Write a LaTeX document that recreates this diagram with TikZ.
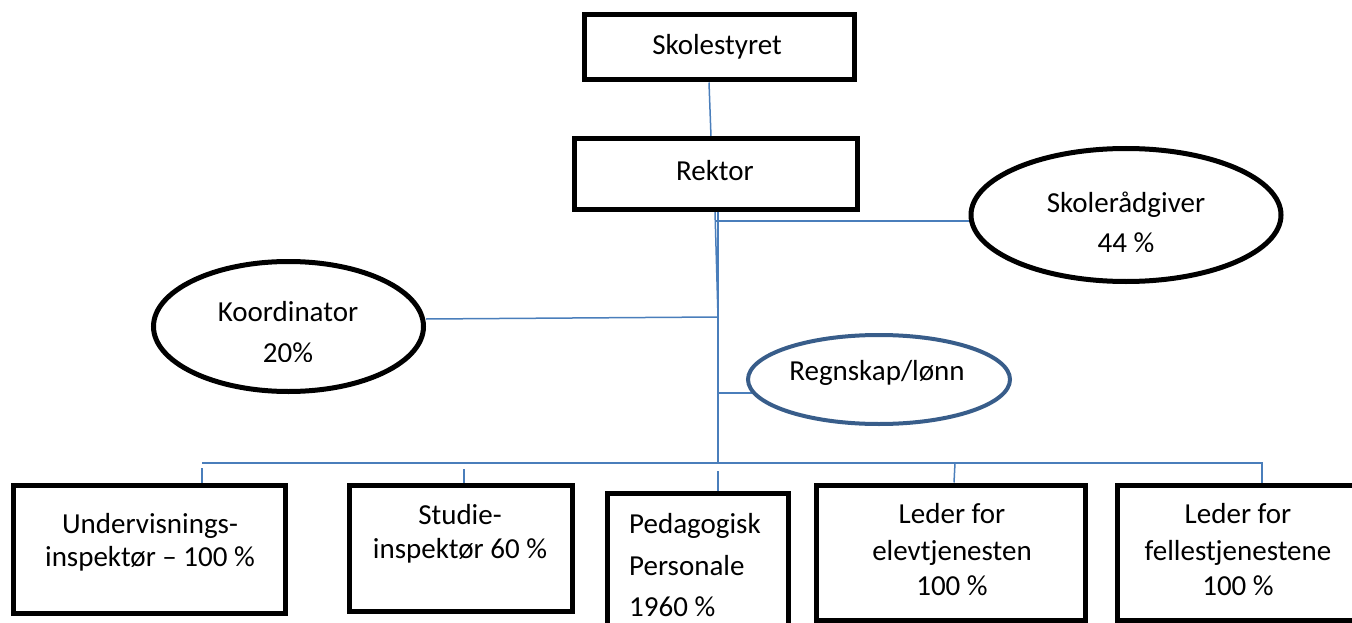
\documentclass[tikz,border=0pt]{standalone}
\usepackage{fontspec}
\setmainfont{Carlito}
\usetikzlibrary{shapes.geometric,backgrounds}
\definecolor{connc}{HTML}{4A7EBB}
\definecolor{rgstroke}{HTML}{385D8A}
\begin{document}
\begin{tikzpicture}[x=1pt,y=-1pt,
  box/.style={draw=black, line width=5pt, fill=white, inner sep=0pt},
  oval/.style={ellipse, draw=black, line width=5pt, fill=white, inner sep=0pt},
  conn/.style={draw=connc, line width=1.5pt},
  lbl/.style={anchor=base, inner sep=0pt, font=\fontsize{29}{35}\selectfont},
  lblw/.style={lbl, anchor=base west}]
\useasboundingbox (0,0) rectangle (1352,623);

% boxes
\node[box, minimum width=270pt, minimum height=65pt] (sk) at (719,47.5) {};
\node[box, minimum width=283pt, minimum height=70pt] (rk) at (715.5,174) {};
\node[box, minimum width=272pt, minimum height=128pt] (un) at (149,549) {};
\node[box, minimum width=223pt, minimum height=126pt] (st) at (460.5,548) {};
\node[box, minimum width=181pt, minimum height=167pt] (pe) at (697.5,576.5) {};
\node[box, minimum width=269pt, minimum height=135pt] (le) at (950.5,552.5) {};
\node[box, minimum width=283pt, minimum height=135pt] (lf) at (1258.5,552.5) {};

% ellipses
\node[oval, minimum width=310pt, minimum height=133pt] (sr) at (1126,215) {};
\node[oval, minimum width=270pt, minimum height=130pt] (ko) at (288.5,326.5) {};
\node[oval, draw=rgstroke, line width=4pt, minimum width=262pt, minimum height=89pt] (rg) at (879,379.5) {};

% junction coordinates
\coordinate (jsr) at (715,221);
\coordinate (jko) at (718,317);
\coordinate (jrg) at (718,393);
\coordinate (bus) at (718,463);
\coordinate (busL) at (202,463);
\coordinate (busR) at (1262,463);
\coordinate (dle) at (955,463);
\coordinate (du) at (202,468);
\coordinate (ds) at (464,469);
\coordinate (dp) at (718,471);

\begin{pgfonlayer}{background}
\draw[conn] ([xshift=-10pt]sk.south) -- ([xshift=-4.5pt]rk.north);
\draw[conn] ([xshift=-0.5pt]rk.south) -- (jko);
\draw[conn] (jsr) -- (jsr -| sr.center);
\draw[conn] ([xshift=2.5pt]rk.south) -- (bus);
\draw[conn] ([yshift=7.5pt]ko.east) -- (jko);
\draw[conn] (jrg) -- (jrg -| rg.center);
\draw[conn] (busL) -- (busR) -- (busR |- lf.north);
\draw[conn] (dle) -- ([xshift=3.5pt]le.north);
\draw[conn] (du) -- (du |- un.north);
\draw[conn] (ds) -- (ds |- st.north);
\draw[conn] (dp) -- (dp |- pe.north);
\end{pgfonlayer}

% texts
\node[lbl] (tsk) at (717,55) {Skolestyret};
\node[lbl] (trk) at (715,180) {Rektor};
\node[lbl] (tsr1) at (1126,212) {Skolerådgiver};
\begin{scope}
\clip (1000,200) rectangle (1250,251);
\node[lbl] (tsr2) at (1126,252) {44 \%};
\end{scope}
\node[lbl] (tko1) at (288,321) {Koordinator};
\begin{scope}
\clip (200,330) rectangle (380,361);
\node[lbl] (tko2) at (288,362) {20\%};
\end{scope}
\node[lbl] (trg) at (877,380) {Regnskap/lønn};
\node[lbl] (tun1) at (150,533) {Undervisnings-};
\node[lbl] (tun2) at (150,566) {inspektør – 100 \%};
\node[lbl] (tst1) at (460,524) {Studie-};
\node[lbl] (tst2) at (460,558) {inspektør 60 \%};
\node[lblw] (tpe1) at (629,533) {Pedagogisk};
\node[lblw] (tpe2) at (629,575) {Personale};
\node[lblw] (tpe3) at (629,616) {1960 \%};
\node[lbl] (tle1) at (952,523) {Leder for};
\node[lbl] (tle2) at (952,560) {elevtjenesten};
\node[lbl] (tle3) at (952,595) {100 \%};
\node[lbl] (tlf1) at (1238,523) {Leder for};
\node[lbl] (tlf2) at (1238,560) {fellestjenestene};
\node[lbl] (tlf3) at (1238,595) {100 \%};
\end{tikzpicture}
\end{document}
